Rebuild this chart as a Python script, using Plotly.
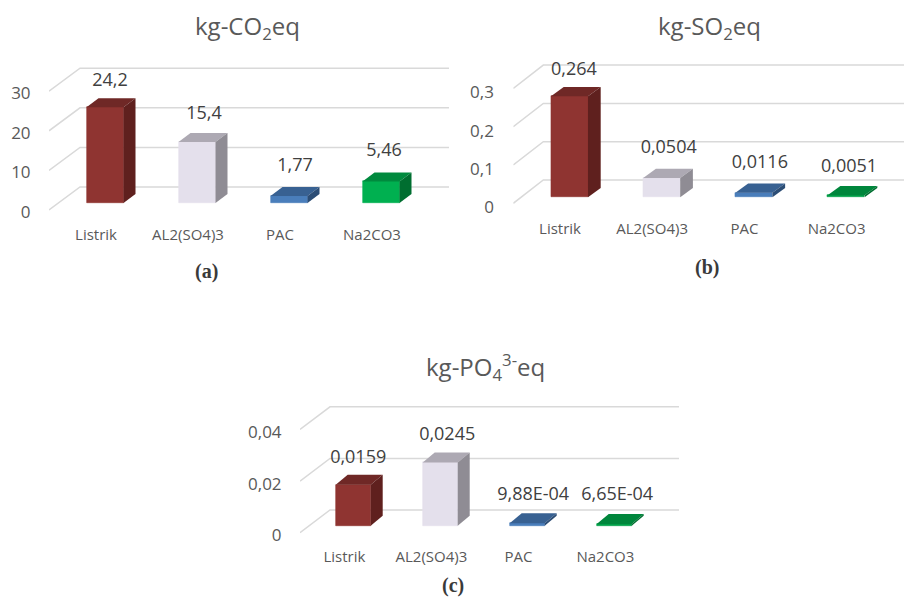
import plotly.graph_objects as go

categories = ["Listrik", "AL2(SO4)3", "PAC", "Na2CO3"]

co2_values = [24.2, 15.4, 1.77, 5.46]
co2_labels = ["24,2", "15,4", "1,77", "5,46"]
co2_ticks = [0, 10, 20, 30]
co2_ticktext = ["0", "10", "20", "30"]

so2_values = [0.264, 0.0504, 0.0116, 0.0051]
so2_labels = ["0,264", "0,0504", "0,0116", "0,0051"]
so2_ticks = [0, 0.1, 0.2, 0.3]
so2_ticktext = ["0", "0,1", "0,2", "0,3"]

po4_values = [0.0159, 0.0245, 0.000988, 0.000665]
po4_labels = ["0,0159", "0,0245", "9,88E-04", "6,65E-04"]
po4_ticks = [0, 0.02, 0.04]
po4_ticktext = ["0", "0,02", "0,04"]

W, H = 904, 597
FONT = "Open Sans"
GRID = "#D9D9D9"
TEXT = "#595959"
FLOOR_PAD = 8

front_a = ["#8F3431", "#E4E0EC", "#4A7EBB", "#00B050"]
top_a = ["#6F2826", "#ADA9B3", "#386192", "#008A3E"]
side_a = ["#5F201E", "#8F8C94", "#2C4D75", "#006E30"]
front_b = ["#8F3431", "#E4E0EC", "#4A7EBB", "#00A048"]
top_b = ["#6F2826", "#ADA9B3", "#386192", "#00863C"]
side_b = ["#5F201E", "#8F8C94", "#2C4D75", "#006E30"]

panels = [
    dict(values=co2_values, labels=co2_labels, ticks=co2_ticks, ticktext=co2_ticktext,
         left=49, right=449, top=40, corner=210, base=203, k=3.96,
         c0=105, sp=92, bw=37, dx=12, dy=9, backdx=31, backdy=16,
         lab_dx=[5, 7, 6, 3], lab_dy=[17, 19, 20, 21], xlab_shift=-9,
         tick_len=14, xtick_len=3, ylab_shift=2, colors=(front_a, top_a, side_a)),
    dict(values=so2_values, labels=so2_labels, ticks=so2_ticks, ticktext=so2_ticktext,
         left=513.3, right=904, top=40, corner=203.3, base=197.3, k=383,
         c0=569.5, sp=92.2, bw=37, dx=12.7, dy=9.3, backdx=30, backdy=17.3,
         lab_dx=[4.5, 7, 6, 3], lab_dy=[16, 20, 20, 19], xlab_shift=-9.5,
         tick_len=15, xtick_len=4, ylab_shift=4, colors=(front_b, top_b, side_b)),
    dict(values=po4_values, labels=po4_labels, ticks=po4_ticks, ticktext=po4_ticktext,
         left=300, right=679, top=395, corner=532.7, base=525.7, k=2580,
         c0=353.2, sp=87, bw=35, dx=12, dy=10, backdx=30, backdy=15.7,
         lab_dx=[5, 7, 6, 3], lab_dy=[16, 17, 18, 18], xlab_shift=-8.8,
         tick_len=14, xtick_len=2, ylab_shift=2.5, colors=(front_b, top_b, side_b)),
]

titles = [
    ("kg-CO<sub>2</sub>eq", 248, 27),
    ("kg-SO<sub>2</sub>eq", 709, 27),
    ("kg-PO<sub>4</sub><sup>3-</sup>eq", 485, 367),
]
captions = [("(a)", 206, 271), ("(b)", 707, 267), ("(c)", 453, 585)]

fig = go.Figure()
layout = dict(
    width=W, height=H, autosize=False,
    margin=dict(l=0, r=0, t=0, b=0),
    paper_bgcolor="white", plot_bgcolor="white",
    showlegend=False, bargap=0,
)

for n, p in enumerate(panels, start=1):
    xa, ya = f"x{n}", f"y{n}"
    k, sp = p["k"], p["sp"]
    bottom = p["corner"] + FLOOR_PAD
    xr = [(p["left"] - p["c0"]) / sp, (p["right"] - p["c0"]) / sp]
    yr = [(p["base"] - bottom) / k, (p["base"] - p["top"]) / k]
    front_off = (p["corner"] - p["base"]) / k
    # slanted wall + back gridlines
    for t in p["ticks"]:
        fig.add_trace(go.Scatter(
            x=[xr[0], xr[0] + p["backdx"] / sp, xr[1]],
            y=[t - front_off, t + p["backdy"] / k, t + p["backdy"] / k],
            mode="lines", line=dict(color=GRID, width=1.5), hoverinfo="skip",
            xaxis=xa, yaxis=ya, zorder=0, cliponaxis=False))
    hw = p["bw"] / sp / 2
    ddx, ddy = p["dx"] / sp, p["dy"] / k
    xs = list(range(len(p["values"])))
    fig.add_trace(go.Bar(
        x=xs, y=p["values"], width=p["bw"] / sp,
        marker=dict(color=p["colors"][0], line=dict(width=0.6, color=p["colors"][0])),
        hoverinfo="skip", xaxis=xa, yaxis=ya, zorder=1))
    for i, v in enumerate(p["values"]):
        fig.add_trace(go.Scatter(
            x=[i - hw, i + hw, i + hw + ddx, i - hw + ddx, i - hw],
            y=[v, v, v + ddy, v + ddy, v],
            mode="lines", fill="toself", fillcolor=p["colors"][1][i], line=dict(width=0),
            hoverinfo="skip", xaxis=xa, yaxis=ya, zorder=2))
        fig.add_trace(go.Scatter(
            x=[i + hw, i + hw + ddx, i + hw + ddx, i + hw, i + hw],
            y=[0, ddy, v + ddy, v, 0],
            mode="lines", fill="toself", fillcolor=p["colors"][2][i], line=dict(width=0),
            hoverinfo="skip", xaxis=xa, yaxis=ya, zorder=2))
    fig.add_trace(go.Scatter(
        x=[i + d / sp for i, d in enumerate(p["lab_dx"])],
        y=[v + (ddy + d / k) for v, d in zip(p["values"], p["lab_dy"])],
        mode="text", text=p["labels"], textposition="middle center",
        textfont=dict(family=FONT, size=18, color="#404040"),
        hoverinfo="skip", xaxis=xa, yaxis=ya, zorder=3, cliponaxis=False))

    layout["xaxis" if n == 1 else f"xaxis{n}"] = dict(
        domain=[p["left"] / W, p["right"] / W], range=xr, anchor=ya, automargin=False,
        tickmode="array", tickvals=[i + p["xlab_shift"] / sp for i in xs], ticktext=categories,
        ticks="outside", ticklen=p["xtick_len"], tickcolor="rgba(0,0,0,0)",
        tickfont=dict(family=FONT, size=15, color=TEXT),
        showgrid=False, zeroline=False, showline=False, tickangle=0)
    layout["yaxis" if n == 1 else f"yaxis{n}"] = dict(
        domain=[1 - bottom / H, 1 - p["top"] / H], range=yr, anchor=xa, automargin=False,
        tickmode="array", tickvals=[t - front_off - p["ylab_shift"] / k for t in p["ticks"]],
        ticktext=p["ticktext"],
        ticks="outside", ticklen=p["tick_len"], tickcolor="rgba(0,0,0,0)",
        tickfont=dict(family=FONT, size=17, color=TEXT),
        showgrid=False, zeroline=False, showline=False)

annotations = []
for txt, x, y in titles:
    annotations.append(dict(text=txt, x=x / W, y=1 - y / H, xref="paper", yref="paper",
                            xanchor="center", yanchor="middle", showarrow=False,
                            font=dict(family=FONT, size=24, color="#595959")))
for txt, x, y in captions:
    annotations.append(dict(text=f"<b>{txt}</b>", x=x / W, y=1 - y / H, xref="paper", yref="paper",
                            xanchor="center", yanchor="middle", showarrow=False,
                            font=dict(family="Liberation Serif", size=20, color="#3A3A3A")))
layout["annotations"] = annotations
fig.update_layout(**layout)
fig.write_html("out.html", post_script="document.body.style.margin='0';",
               config={"displayModeBar": False})
